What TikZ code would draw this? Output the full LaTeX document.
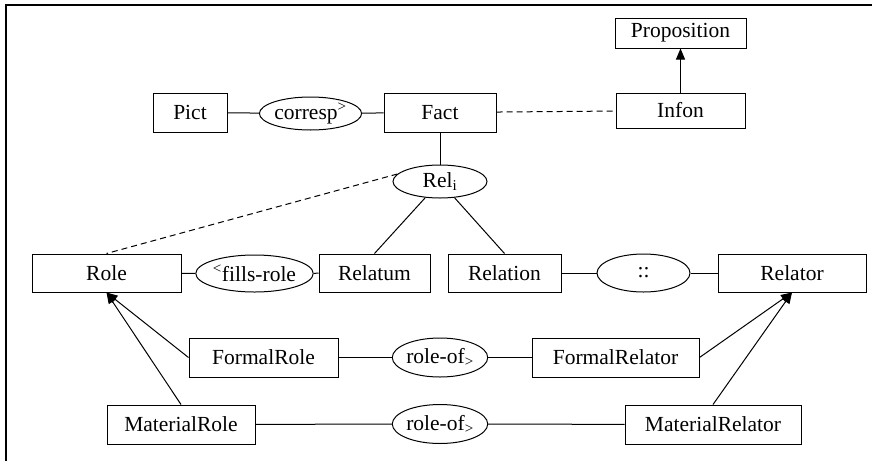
\documentclass[tikz,border=0pt]{standalone}
\usepackage{fontspec}
\setmainfont{Liberation Serif}
\usetikzlibrary{shapes.geometric,arrows.meta}

\tikzset{
  box/.style={draw, line width=1pt, rectangle, inner sep=0pt, align=center},
  rel/.style={draw, line width=1pt, ellipse, inner sep=0pt, align=center},
  link/.style={line width=1pt},
  dlink/.style={line width=1pt, dash pattern=on 6pt off 4pt},
  isa/.style={line width=1pt, -{Triangle[length=11pt,width=9pt]}},
}

\begin{document}
\begin{tikzpicture}[x=1pt,y=-1pt,font=\fontsize{21.5}{24}\selectfont]
\useasboundingbox (0,0) rectangle (872,461);

% partial frame (top and left edges)
\draw[line width=2pt] (6,461) -- (6,5) -- (872,5);

% top row
\node[box, minimum width=131pt, minimum height=30pt] (prop) at (680.5,33) {Proposition};
\node[box, minimum width=129pt, minimum height=35pt] (infon) at (680.5,110.5) {Infon};
\node[box, minimum width=74pt, minimum height=39pt] (pict) at (190,112.5) {Pict};
\node[box, minimum width=112pt, minimum height=39pt] (fact) at (440,112.5) {Fact};
\node[rel, minimum width=95pt, minimum height=33pt] (corresp) at (310.5,113.5) {corresp\textsuperscript{>}};
\node[rel, minimum width=94pt, minimum height=33pt] (reli) at (440,181.5) {Rel\textsubscript{i}};

% middle row
\node[box, minimum width=149pt, minimum height=38pt] (role) at (106.5,273) {Role};
\node[rel, minimum width=95pt, minimum height=37pt] (fills) at (254.5,273.5) {\textsuperscript{<}fills-role};
\node[box, minimum width=111pt, minimum height=38pt] (relatum) at (374.5,273) {Relatum};
\node[box, minimum width=113pt, minimum height=38pt] (relation) at (504.5,273) {Relation};
\node[rel, minimum width=93pt, minimum height=38pt] (colons) at (643.5,273) {::};
\node[box, minimum width=148pt, minimum height=38pt] (relator) at (792,273) {Relator};

% formal row
\node[box, minimum width=149pt, minimum height=39pt] (formalrole) at (263.5,357.5) {FormalRole};
\node[rel, minimum width=94pt, minimum height=39pt] (roleofA) at (440,357.5) {role-of\textsubscript{>}};
\node[box, minimum width=167pt, minimum height=39pt] (formalrelator) at (615.5,357.5) {FormalRelator};

% material row
\node[box, minimum width=148pt, minimum height=39pt] (materialrole) at (181,424.5) {MaterialRole};
\node[rel, minimum width=94pt, minimum height=39pt] (roleofB) at (440,424) {role-of\textsubscript{>}};
\node[box, minimum width=176pt, minimum height=39pt] (materialrelator) at (713,424.5) {MaterialRelator};

% connectors
\draw[link] (pict) -- (corresp) -- (fact);
\draw[dlink] (fact) -- (infon);
\draw[isa] (infon) -- (prop);
\draw[link] (fact) -- (reli);
\draw[dlink] (reli.170) -- (role.north);
\draw[link] (reli) -- (relatum.north);
\draw[link] (reli) -- (relation.north);
\draw[link] (role) -- (fills) -- (relatum);
\draw[link] (relation) -- (colons) -- (relator);
\draw[link] (formalrole) -- (roleofA) -- (formalrelator);
\draw[link] (materialrole) -- (roleofB) -- (materialrelator);
\draw[isa] (formalrole.west) -- (role.south);
\draw[isa] (materialrole.north) -- (role.south);
\draw[isa] (formalrelator.east) -- (relator.south);
\draw[isa] (materialrelator.north) -- (relator.south);
\end{tikzpicture}
\end{document}
